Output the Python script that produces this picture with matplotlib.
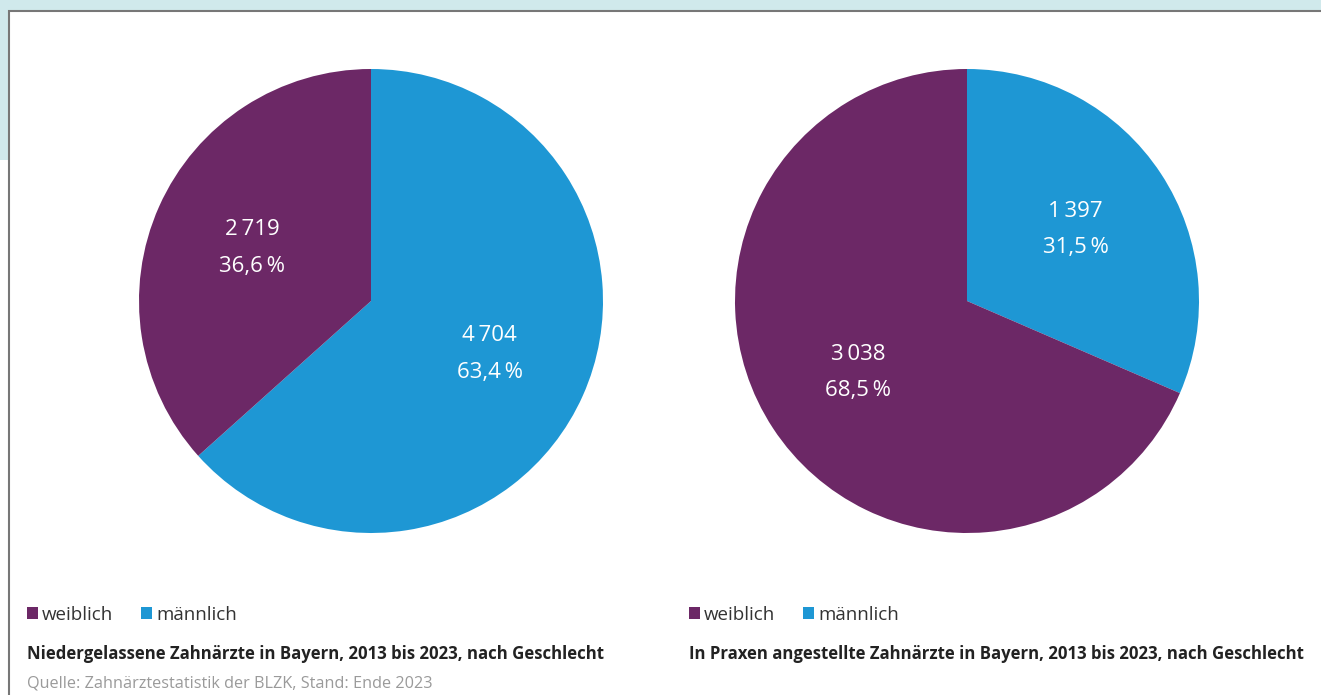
import matplotlib
matplotlib.use("Agg")
import matplotlib.pyplot as plt
from matplotlib.patches import Rectangle, Patch

plt.rcParams['font.family'] = ['Open Sans', 'DejaVu Sans']

categories = ["männlich", "weiblich"]
legend_order = ["weiblich", "männlich"]
values_left = [4704, 2719]
values_right = [1397, 3038]
titles = ["Niedergelassene Zahnärzte in Bayern, 2013 bis 2023, nach Geschlecht",
          "In Praxen angestellte Zahnärzte in Bayern, 2013 bis 2023, nach Geschlecht"]
source = "Quelle: Zahnärztestatistik der BLZK, Stand: Ende 2023"

colors = {"männlich": "#1e97d4", "weiblich": "#6c2866"}

W, H = 1321, 695
fig = plt.figure(figsize=(W / 100, H / 100), dpi=100)
fig.patch.set_facecolor("white")

def px(x, y):
    return x / W, 1 - y / H

# background frame
fig.patches.append(Rectangle((0, 1 - 160 / H), 1, 160 / H, transform=fig.transFigure,
                             facecolor="#d0e9ec", edgecolor="none", zorder=-3))
fig.patches.append(Rectangle((8.5 / W, -0.1), 1.2, 1.1 - 11.5 / H, transform=fig.transFigure,
                             facecolor="white", edgecolor="#777777", linewidth=1.5, zorder=-2))

def fmt_num(v):
    s = f"{v:,}".replace(",", "\u2009")
    return s

def make_autopct(vals):
    total = sum(vals)
    def f(p):
        v = int(round(p * total / 100.0))
        return f"{fmt_num(v)}\n{p:.1f}".replace(".", ",") + "\u2009%"
    return f

centers = [(371, 301), (967, 301)]
r = 232
for (cx, cy), vals, title, lx in zip(centers, [values_left, values_right], titles, [10, 672]):
    ax = fig.add_axes([(cx - r) / W, (H - cy - r) / H, 2 * r / W, 2 * r / H])
    ax.patch.set_visible(False)
    wedges, texts, autotexts = ax.pie(vals, colors=[colors[c] for c in categories],
                                      startangle=90, counterclock=False,
                                      autopct=make_autopct(vals), pctdistance=0.56,
                                      textprops=dict(color="white", fontsize=16,
                                                     linespacing=1.97))
    ax.set_xlim(-1, 1)
    ax.set_ylim(-1, 1)
    ax.set_aspect("equal")
    handles = [Patch(facecolor=colors[c], edgecolor="none") for c in legend_order]
    fig.legend(handles, legend_order, loc="center left", bbox_to_anchor=px(lx, 615),
               ncol=2, frameon=False, fontsize=13.5, handlelength=0.6, handleheight=0.6,
               handletextpad=0.22, columnspacing=1.45, labelcolor="#333333")
    fig.text(*px(lx + 17, 654), title, fontsize=12.1, fontweight="bold", color="#222222",
             va="center", ha="left")

fig.text(*px(27, 684), source, fontsize=11.7, color="#9a9a9a", va="center", ha="left")

fig.savefig("out.png", dpi=100)
